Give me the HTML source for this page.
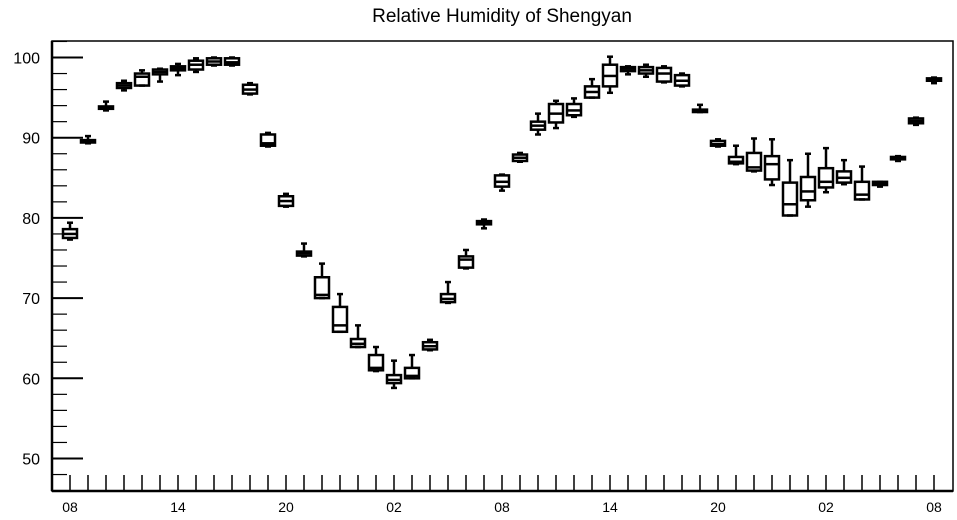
<!DOCTYPE html>
<html><head><meta charset="utf-8"><style>
html,body{margin:0;padding:0;background:#fff;}
svg{display:block;font-family:"Liberation Sans",sans-serif;}
</style></head><body>
<svg id="chart" width="957" height="520" viewBox="0 0 957 520" xmlns="http://www.w3.org/2000/svg">
<text x="502" y="22" font-size="19" text-anchor="middle">Relative Humidity of Shengyan</text>
<g id="axes"></g>
<g id="boxes"></g>
</svg>
<script>
const hours = ["08","09","10","11","12","13","14","15","16","17","18","19","20","21","22","23","00","01","02","03","04","05","06","07","08","09","10","11","12","13","14","15","16","17","18","19","20","21","22","23","00","01","02","03","04","05","06","07","08"];
const whiskerLow = [77.3,89.3,93.4,95.9,96.5,97.0,97.8,98.2,99.0,99.0,95.4,88.9,81.4,75.2,70.0,65.8,63.9,60.9,58.8,60.0,63.5,69.4,73.7,78.7,83.4,87.0,90.4,91.2,92.6,95.0,95.6,97.9,97.6,96.9,96.4,93.2,88.9,86.7,85.8,84.1,80.3,81.4,83.2,84.2,82.3,83.9,87.1,91.6,96.8];
const q1 = [77.5,89.4,93.6,96.2,96.5,97.9,98.4,98.5,99.1,99.1,95.5,89.0,81.5,75.3,70.0,65.8,63.9,61.0,59.4,60.0,63.6,69.5,73.8,79.2,83.9,87.1,91.0,91.9,92.8,95.0,96.4,98.3,98.0,97.0,96.5,93.2,89.0,86.8,85.9,84.8,80.3,82.2,83.8,84.4,82.3,84.1,87.3,91.8,97.1];
const median = [78.0,89.5,93.7,96.5,97.6,98.2,98.6,99.1,99.5,99.4,96.0,89.3,82.1,75.6,70.4,66.6,64.3,61.3,59.8,60.3,64.0,69.9,74.8,79.4,84.5,87.5,91.5,93.0,93.4,95.7,97.7,98.6,98.4,98.0,97.1,93.3,89.2,87.0,86.3,86.7,81.7,83.3,84.5,85.0,82.9,84.3,87.5,92.1,97.3];
const q3 = [78.6,89.7,93.9,96.8,98.0,98.5,98.9,99.6,99.9,99.9,96.6,90.4,82.7,75.8,72.6,68.9,64.9,62.9,60.4,61.3,64.5,70.5,75.2,79.6,85.3,87.9,92.0,94.2,94.2,96.4,99.1,98.8,98.8,98.7,97.8,93.5,89.6,87.6,88.1,87.7,84.4,85.1,86.2,85.8,84.5,84.5,87.6,92.4,97.4];
const whiskerHigh = [79.4,90.2,94.5,97.1,98.4,98.6,99.2,99.9,100.0,100.0,96.8,90.6,83.0,76.8,74.3,70.5,66.6,63.9,62.2,62.9,64.8,72.0,76.0,79.8,85.4,88.1,93.0,94.6,94.9,97.3,100.1,98.9,99.1,98.9,98.0,94.1,89.8,89.0,89.9,89.8,87.2,88.0,88.7,87.2,86.4,84.5,87.7,92.5,97.5];
const yTicks = [50,60,70,80,90,100];

const L=52,R=953,T=41,B=491;
const yv = v => 57.5 + (100 - v) * 8.02;
const xi = i => 70 + i * 18;
const NS="http://www.w3.org/2000/svg";
function mk(tag, attrs, parent){const e=document.createElementNS(NS,tag);for(const k in attrs)e.setAttribute(k,attrs[k]);parent.appendChild(e);return e;}
const ax=document.getElementById('axes');
const frame=mk('rect',{x:L,y:T,width:R-L,height:B-T,fill:'none',stroke:'#000','stroke-width':1.5},ax);


const lw=mk('line',{x1:L,y1:T,x2:L,y2:B,stroke:'#000','stroke-width':2.5},ax);


const bw=mk('line',{x1:L,y1:B,x2:R,y2:B,stroke:'#000','stroke-width':2.5},ax);


for(let v=46; v<=102; v+=2){
  const major = v%10===0;
  const t=mk('line',{x1:L,y1:yv(v),x2:L+(major?31:15),y2:yv(v),stroke:'#000','stroke-width':major?2:1.2},ax);
  
  
}
yTicks.forEach(v=>{
  const t=mk('text',{x:40,y:yv(v)+6,'font-size':16,'text-anchor':'end'},ax);
  t.textContent=v;
  
  
});
hours.forEach((h,i)=>{
  const t=mk('line',{x1:xi(i),y1:B,x2:xi(i),y2:B-16,stroke:'#000','stroke-width':1.5},ax);
  
  
  if(i%6===0){
    const lb=mk('text',{x:xi(i),y:512,'font-size':14,'text-anchor':'middle'},ax);
    lb.textContent=h;
    
    
  }
});
const bx=document.getElementById('boxes');
hours.forEach((h,i)=>{
  const g=mk('g',{stroke:'#000','stroke-width':2.5,fill:'none'},bx);
  
  
  const x=xi(i),w=14;
  mk('line',{x1:x,y1:yv(whiskerHigh[i]),x2:x,y2:yv(q3[i])},g);
  mk('line',{x1:x,y1:yv(whiskerLow[i]),x2:x,y2:yv(q1[i])},g);
  mk('line',{x1:x-3,y1:yv(whiskerHigh[i]),x2:x+3,y2:yv(whiskerHigh[i])},g);
  mk('line',{x1:x-3,y1:yv(whiskerLow[i]),x2:x+3,y2:yv(whiskerLow[i])},g);
  const y3=yv(q3[i]),y1=yv(q1[i]);
  mk('rect',{x:x-w/2,y:y3,width:w,height:Math.max(y1-y3,1.5)},g);
  mk('line',{x1:x-w/2,y1:yv(median[i]),x2:x+w/2,y2:yv(median[i])},g);
});
</script>
</body></html>
